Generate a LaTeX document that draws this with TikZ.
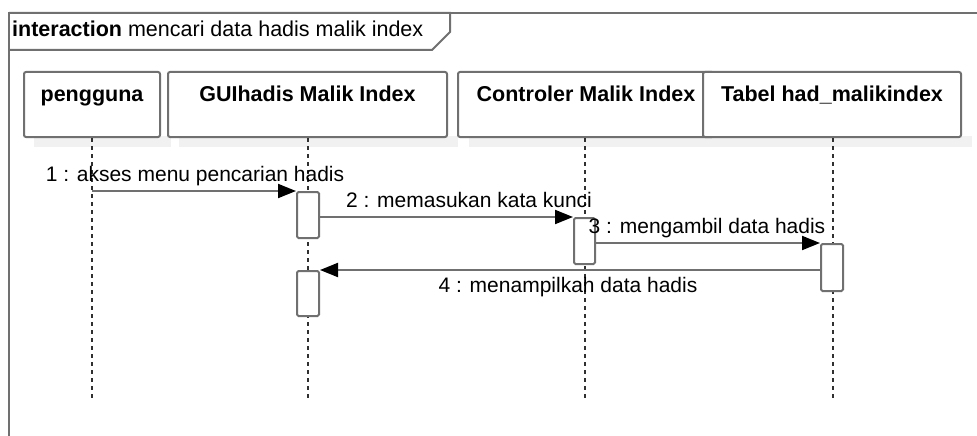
\documentclass[tikz,border=0pt]{standalone}
\usepackage{fontspec}
\setmainfont{Liberation Sans}
\usetikzlibrary{arrows.meta,calc}
\definecolor{edgegray}{HTML}{707070}
\definecolor{lifegray}{HTML}{303030}
\definecolor{shadegray}{HTML}{F1F1F1}
\tikzset{
  umltext/.style={font=\fontsize{21.5pt}{24pt}\selectfont},
  headbox/.style={draw=edgegray, line width=2pt, fill=white, rounded corners=2pt,
    inner sep=0pt, text height=29pt, text depth=36pt, anchor=north west,
    font=\fontsize{21.5pt}{24pt}\selectfont\bfseries},
  shade/.style={fill=shadegray, draw=none},
  lifeline/.style={draw=lifegray, line width=1.5pt, dash pattern=on 4pt off 4pt},
  actbox/.style={draw=edgegray, line width=2pt, fill=white, rounded corners=1.5pt,
    inner sep=0pt, anchor=north west},
  msg/.style={draw=edgegray, line width=2pt,
    -{Triangle[length=18pt, width=14pt, fill=black, color=black]}},
  msglabel/.style={font=\fontsize{21pt}{24pt}\selectfont, anchor=base, inner sep=0pt},
}
\begin{document}
\begin{tikzpicture}[x=1pt, y=-1pt]
\useasboundingbox (0,0) rectangle (977,436);

% interaction frame and its name tab
\draw[edgegray, line width=2pt] (9,440) -- (9,13) -- (980,13);
\draw[edgegray, line width=2pt] (9,13) -- (450,13) -- (450,32) -- (432,50) -- (9,50);
\node[umltext, anchor=base west, inner sep=0pt] (title) at (12,37)
  {{\bfseries interaction} mencari data hadis malik index};

% soft shadows under the participant heads
\fill[shade] (34,136) rectangle (171,147);
\fill[shade] (179,136) rectangle (458,147);
\fill[shade] (469,136) rectangle (972,147);

% participant heads
\node[headbox, minimum width=136pt] (pengguna) at (23,71) {pengguna};
\node[headbox, minimum width=279pt] (gui) at (167,71) {GUIhadis Malik Index};
\node[headbox, minimum width=256pt] (ctrl) at (457,71) {Controler Malik Index};
\node[headbox, minimum width=258pt] (tabel) at (702,71) {Tabel had\_malikindex};

% lifelines
\coordinate (pEnd) at (92,400);
\coordinate (gEnd) at (308,400);
\coordinate (cEnd) at (585,400);
\coordinate (tEnd) at (833,400);
\draw[lifeline] (pengguna.south -| pEnd) -- (pEnd);
\draw[lifeline] (gui.south -| gEnd) -- (gEnd);
\draw[lifeline] (ctrl.south -| cEnd) -- (cEnd);
\draw[lifeline] (tabel.south -| tEnd) -- (tEnd);

% activation bars
\node[actbox, minimum width=22pt, minimum height=46pt] (a1) at (296,191) {};
\node[actbox, minimum width=21pt, minimum height=46pt] (a2) at (573,217) {};
\node[actbox, minimum width=22pt, minimum height=47pt] (a3) at (820,243) {};
\node[actbox, minimum width=22pt, minimum height=45pt] (a4) at (296,270) {};

% messages
\draw[msg] (pEnd |- a1.north west) -- (a1.north west);
\draw[msg] (a1.east |- a2.north) -- (a2.north west);
\draw[msg] (a2.east |- a3.north) -- (a3.north west);
\draw[msg] (a3.west |- a4.north) -- (a4.north east);

% message labels
\node[msglabel] (l1) at (195,181) {1 : akses menu pencarian hadis};
\node[msglabel] (l2) at (469,207) {2 : memasukan kata kunci};
\node[msglabel] (l3) at (707,233) {3 : mengambil data hadis};
\node[msglabel] (l4) at (568,292.5) {4 : menampilkah data hadis};
\end{tikzpicture}
\end{document}
